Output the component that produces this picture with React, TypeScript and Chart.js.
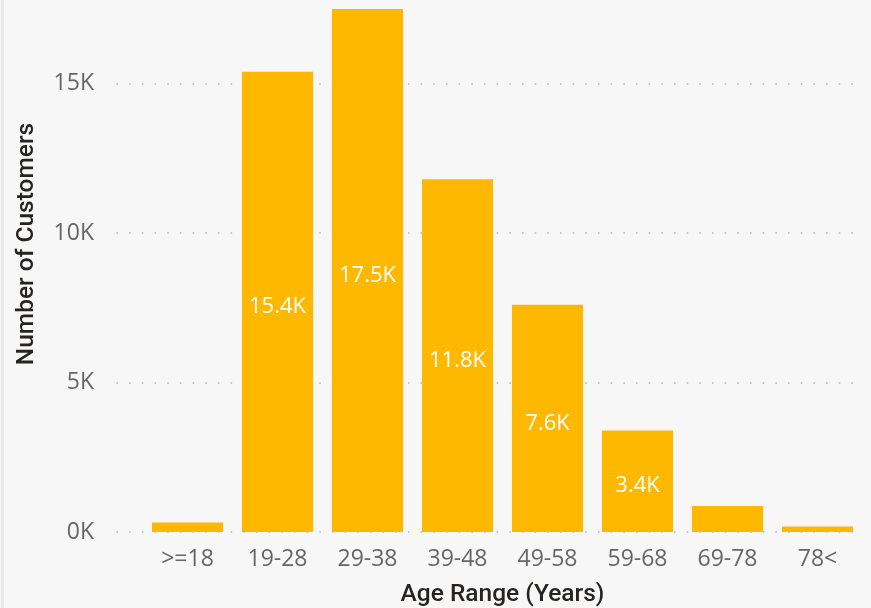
import React, { useEffect, useRef } from 'react';
import { Chart, registerables } from 'chart.js';

Chart.register(...registerables);

const categories = ['>=18', '19-28', '29-38', '39-48', '49-58', '59-68', '69-78', '78<'];
const customers = [320, 15400, 17500, 11800, 7600, 3400, 870, 180];
const yTickValues = [0, 5000, 10000, 15000];
const xTitle = 'Age Range (Years)';
const yTitle = 'Number of Customers';

const BAR_COLOR = '#FFB800';
const BG = '#F7F7F7';
const TICK_COLOR = '#666666';
const TITLE_COLOR = '#252423';
const TICK_FONT = "'Open Sans', 'Noto Sans', sans-serif";
const TITLE_FONT = "Roboto, 'Open Sans', sans-serif";

const fmtK = (v: number) => {
  const k = v / 1000;
  return (Number.isInteger(k) ? String(k) : k.toFixed(1)) + 'K';
};

const bgPlugin = {
  id: 'bgPlugin',
  beforeDraw(chart: any) {
    const { ctx, width, height } = chart;
    ctx.save();
    ctx.fillStyle = BG;
    ctx.fillRect(0, 0, width, height);
    ctx.fillStyle = '#E9E9E9';
    ctx.fillRect(1, 0, 3, height);
    ctx.restore();
  },
};

const dottedGridPlugin = {
  id: 'dottedGrid',
  beforeDatasetsDraw(chart: any) {
    const { ctx, chartArea } = chart;
    const y = chart.scales.y;
    ctx.save();
    ctx.strokeStyle = '#C6C6C6';
    ctx.lineWidth = 2;
    ctx.setLineDash([1.6, 11.07]);
    for (const v of yTickValues) {
      const py = Math.round(y.getPixelForValue(v));
      ctx.beginPath();
      ctx.moveTo(chartArea.left - 26, py);
      ctx.lineTo(chartArea.right, py);
      ctx.stroke();
    }
    ctx.restore();
  },
};

const barLabelPlugin = {
  id: 'barLabels',
  afterDatasetsDraw(chart: any) {
    const { ctx } = chart;
    const meta = chart.getDatasetMeta(0);
    ctx.save();
    ctx.fillStyle = '#FFFFFF';
    ctx.font = `22px ${TICK_FONT}`;
    ctx.textAlign = 'center';
    ctx.textBaseline = 'middle';
    meta.data.forEach((bar: any, i: number) => {
      const h = bar.base - bar.y;
      if (h < 60) return;
      ctx.fillText(fmtK(customers[i]), bar.x, (bar.y + bar.base) / 2 + 5);
    });
    ctx.restore();
  },
};

const yTitlePlugin = {
  id: 'yTitle',
  afterDraw(chart: any) {
    const { ctx } = chart;
    ctx.save();
    ctx.translate(27, 244);
    ctx.rotate(-Math.PI / 2);
    ctx.fillStyle = TITLE_COLOR;
    ctx.font = `500 24.5px ${TITLE_FONT}`;
    ctx.textAlign = 'center';
    ctx.textBaseline = 'middle';
    ctx.fillText(yTitle, 0, 0);
    ctx.restore();
  },
};

export default function App() {
  const ref = useRef<HTMLCanvasElement>(null);

  useEffect(() => {
    document.body.style.margin = '0';
    const chart = new Chart(ref.current!, {
      type: 'bar',
      data: {
        labels: categories,
        datasets: [
          {
            data: customers,
            backgroundColor: BAR_COLOR,
            borderWidth: 0,
            barPercentage: 0.79,
            categoryPercentage: 1,
          },
        ],
      },
      options: {
        responsive: false,
        animation: false,
        events: [],
        layout: { padding: { top: 9, right: 8.5, left: 0, bottom: 0 } },
        plugins: {
          legend: { display: false },
          tooltip: { enabled: false },
        },
        scales: {
          x: {
            grid: { display: false },
            border: { display: false },
            ticks: {
              color: TICK_COLOR,
              font: { family: TICK_FONT, size: 23 },
              padding: 6,
              maxRotation: 0,
              autoSkip: false,
            },
            title: {
              display: true,
              text: xTitle,
              color: TITLE_COLOR,
              font: { family: TITLE_FONT, size: 24.5, weight: '500' },
              padding: { top: 0, bottom: -2 },
            },
            afterFit(scale: any) {
              scale.height = 76;
              scale.paddingLeft = 0;
              scale.paddingRight = 0;
            },
          },
          y: {
            min: 0,
            max: Math.max(...customers),
            grid: { display: false },
            border: { display: false },
            afterBuildTicks(scale: any) {
              scale.ticks = yTickValues.map((value) => ({ value }));
            },
            ticks: {
              color: TICK_COLOR,
              font: { family: TICK_FONT, size: 23 },
              padding: 40.5,
              callback: (v: any) => fmtK(Number(v)),
            },
            title: { display: false },
            afterFit(scale: any) {
              scale.width = 142.5;
              scale.paddingTop = 0;
              scale.paddingBottom = 0;
            },
          },
        },
      },
      plugins: [bgPlugin, dottedGridPlugin, barLabelPlugin, yTitlePlugin],
    } as any);
    return () => chart.destroy();
  }, []);

  return (
    <div style={{ position: 'fixed', left: 0, top: 0, width: 871, height: 608 }}>
      <canvas ref={ref} width={871} height={608} />
    </div>
  );
}
